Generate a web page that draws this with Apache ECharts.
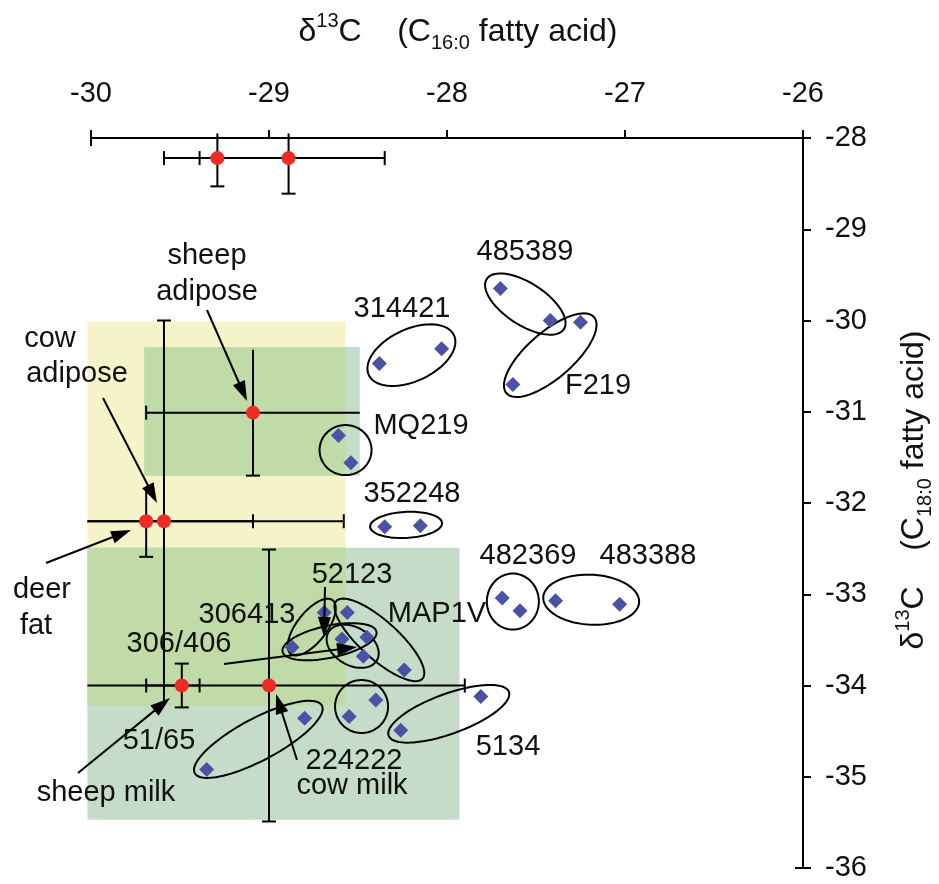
<!DOCTYPE html>
<html><head><meta charset="utf-8">
<script src="https://cdn.jsdelivr.net/npm/echarts@6/dist/echarts.min.js"></script>
<style>html,body{margin:0;padding:0;background:#fff}#c{width:939px;height:884px}</style>
</head><body><div id="c"></div>
<script>
const FONT = "'Liberation Sans', Arial, sans-serif";

// ---- axes ----
const xTickValues = [-30, -29, -28, -27, -26];
const yTickValues = [-28, -29, -30, -31, -32, -33, -34, -35, -36];

// ---- archaeological samples (blue diamonds) ----
const sampleGroup = ['485389','485389','F219','F219','314421','314421','MQ219','MQ219','352248','352248',
  '482369','482369','483388','483388','52123','MAP1V','306413','MAP1V','306413','306/406','MAP1V','51/65','51/65','5134','5134','224222','224222'];
const sampleX = [-27.70,-27.42,-27.25,-27.63,-28.38,-28.03,-28.61,-28.54,-28.35,-28.15,
  -27.69,-27.59,-27.39,-27.03,-28.69,-28.56,-28.59,-28.45,-28.47,-28.87,-28.24,-28.40,-28.55,-27.81,-28.26,-28.80,-29.35];
const sampleY = [-29.65,-30.00,-30.02,-30.70,-30.47,-30.31,-31.26,-31.56,-32.26,-32.25,
  -33.04,-33.18,-33.07,-33.11,-33.20,-33.20,-33.49,-33.47,-33.68,-33.58,-33.83,-34.16,-34.34,-34.12,-34.49,-34.36,-34.92];

// ---- modern reference fats (red points with ranges) ----
const refNames = ['ref A','ref B','sheep adipose','cow adipose','deer fat','sheep milk','cow milk'];
const refX     = [-29.29, -28.89, -29.09, -29.59, -29.69, -29.49, -29.00];
const refY     = [-28.22, -28.22, -31.01, -32.20, -32.20, -34.00, -34.00];
const refXLow  = [-29.59, -29.39, -29.69, -30.02, -30.02, -29.69, -30.02];
const refXHigh = [-28.89, -28.35, -28.49, -28.58, -29.09, -29.39, -27.90];
const refYLow  = [-28.53, -28.61, -31.70, -34.20, -32.59, -34.24, -35.49];
const refYHigh = [-27.95, -27.95, -30.32, -30.00, -31.86, -33.76, -32.51];

// ---- shaded reference ranges ----
const rangeX0 = [-30.02, -29.70, -30.02];
const rangeX1 = [-28.57, -28.49, -27.93];
const rangeY0 = [-30.01, -30.29, -32.49];
const rangeY1 = [-34.22, -31.70, -35.47];

// ---- group ellipse centres (data units) ----
const groupCx = [-27.56, -27.42, -28.20, -28.57, -28.23, -27.63, -27.19, -28.76, -28.66, -28.53, -28.38, -28.48, -27.99, -29.06];
const groupCy = [-29.82, -30.38, -30.38, -31.42, -32.24, -33.08, -33.06, -33.36, -33.52, -33.57, -33.50, -34.23, -34.31, -34.59];

// ===== rendering config (styles / sizes) =====
const ellipseGeom = [ // rx px, ry px, angle deg
  [46,21,33],[58,23,-41],[47,26,-25],[26,25,0],[36,13,-3],[28,26,90],[48,25,3],
  [34,15,-52],[48,16,-12],[28,19,30],[58,19,42],[26.5,26.5,0],[64,20,-20],[72,21,-28]];
const errCaps = ['lb','lrb','lb','rt','rb','lrbt','rbt'];
const YELLOW = '#f5f4c8', SAGE = '#c4dcc8', OVER = '#c0dba7';
const FS = 29;

const rectData = rangeX0.map((v,i)=>[rangeX0[i], rangeY0[i], rangeX1[i], rangeY1[i]]);
const overData = [];
for (let i = 1; i < rectData.length; i++) {
  const a = rectData[0], b = rectData[i];
  const x0 = Math.max(Math.min(a[0],a[2]), Math.min(b[0],b[2]));
  const x1 = Math.min(Math.max(a[0],a[2]), Math.max(b[0],b[2]));
  const y0 = Math.max(Math.min(a[1],a[3]), Math.min(b[1],b[3]));
  const y1 = Math.min(Math.max(a[1],a[3]), Math.max(b[1],b[3]));
  if (x1 > x0 && y1 > y0) overData.push([x0,y0,x1,y1]);
}

function rectRender(colorFn) {
  return function(params, api) {
    const p0 = api.coord([api.value(0), api.value(1)]);
    const p1 = api.coord([api.value(2), api.value(3)]);
    return {type:'rect', shape:{x:Math.min(p0[0],p1[0]), y:Math.min(p0[1],p1[1]),
      width:Math.abs(p1[0]-p0[0]), height:Math.abs(p1[1]-p0[1])},
      style:{fill:colorFn(params.dataIndex)}};
  };
}

const errData = refX.map((v,i)=>[refX[i], refY[i], refXLow[i], refXHigh[i], refYLow[i], refYHigh[i]]);
function errRender(params, api) {
  const i = params.dataIndex, caps = errCaps[i];
  const l = api.coord([api.value(2), api.value(1)]);
  const r = api.coord([api.value(3), api.value(1)]);
  const b = api.coord([api.value(0), api.value(4)]);
  const t = api.coord([api.value(0), api.value(5)]);
  const st = {stroke:'#000', lineWidth:2};
  const ch = [
    {type:'line', shape:{x1:l[0],y1:l[1],x2:r[0],y2:r[1]}, style:st},
    {type:'line', shape:{x1:b[0],y1:b[1],x2:t[0],y2:t[1]}, style:st}
  ];
  const w = 7;
  if (caps.includes('l')) ch.push({type:'line', shape:{x1:l[0],y1:l[1]-w,x2:l[0],y2:l[1]+w}, style:st});
  if (caps.includes('r')) ch.push({type:'line', shape:{x1:r[0],y1:r[1]-w,x2:r[0],y2:r[1]+w}, style:st});
  if (caps.includes('b')) ch.push({type:'line', shape:{x1:b[0]-w,y1:b[1],x2:b[0]+w,y2:b[1]}, style:st});
  if (caps.includes('t')) ch.push({type:'line', shape:{x1:t[0]-w,y1:t[1],x2:t[0]+w,y2:t[1]}, style:st});
  return {type:'group', children:ch};
}

function ellipseRender(params, api) {
  const g = ellipseGeom[params.dataIndex];
  const c = api.coord([api.value(0), api.value(1)]);
  const th = g[2]*Math.PI/180, pts = [];
  for (let k = 0; k < 90; k++) {
    const t = k/90*2*Math.PI, ex = g[0]*Math.cos(t), ey = g[1]*Math.sin(t);
    pts.push([c[0]+ex*Math.cos(th)-ey*Math.sin(th), c[1]+ex*Math.sin(th)+ey*Math.cos(th)]);
  }
  return {type:'polygon', shape:{points:pts}, style:{fill:'none', stroke:'#000', lineWidth:2}};
}

// ---- annotation text & arrows (pixel positions) ----
const annoText = [
  ['sheep',207,256],['adipose',207,292],
  ['cow',50,339],['adipose',77,374],
  ['deer',42,590],['fat',36,626],
  ['306/406',179,644],['306413',247,615],['52123',352,575],['MAP1V',437,614],
  ['51/65',159,741],['sheep milk',106,793],['224222',354,761],['cow milk',352,786],['5134',508,747],
  ['314421',402,309],['F219',598,386],['MQ219',421,426],['352248',412,494],
  ['485389',525,252],['482369',528,556],['483388',648,556]
];
const arrows = [
  [207,310,247,401],[103,398,157,503],[46,563,131,530],[224,664,357,647],
  [325,587,324,637],[78,773,170,698],[297,760,276,694]
];

const graphics = [];
annoText.forEach(a => graphics.push({type:'text', x:a[1], y:a[2], z:100,
  style:{text:a[0], fontSize:FS, fontFamily:FONT, fill:'#111', align:'center', verticalAlign:'middle',
    textAlign:'center', textVerticalAlign:'middle'}}));
arrows.forEach(a => {
  const [x1,y1,x2,y2] = a, dx = x2-x1, dy = y2-y1, L = Math.hypot(dx,dy), ux = dx/L, uy = dy/L;
  const hl = 20, hw = 6.5, bx = x2-ux*hl, by = y2-uy*hl;
  graphics.push({type:'line', z:100, shape:{x1:x1,y1:y1,x2:bx+ux*2,y2:by+uy*2}, style:{stroke:'#000', lineWidth:2}});
  graphics.push({type:'polygon', z:100, shape:{points:[[x2,y2],[bx-uy*hw,by+ux*hw],[bx+uy*hw,by-ux*hw]]}, style:{fill:'#000'}});
});
const richTitle = {
  a:{fontSize:32, fontFamily:FONT, lineHeight:42, verticalAlign:'middle', fill:'#111'},
  s:{fontSize:20, fontFamily:FONT, lineHeight:20, verticalAlign:'top', fill:'#111'},
  b:{fontSize:20, fontFamily:FONT, lineHeight:20, verticalAlign:'bottom', fill:'#111'}
};
graphics.push({type:'text', x:458, y:32, z:100, style:{text:'{a|δ}{s|13}{a|C    (C}{b|16:0}{a| fatty acid)}',
  rich:richTitle, align:'center', verticalAlign:'middle', textAlign:'center', textVerticalAlign:'middle'}});
graphics.push({type:'text', x:914, y:490, rotation:Math.PI/2, z:100, style:{text:'{a|δ}{s|13}{a|C    (C}{b|18:0}{a| fatty acid)}',
  rich:richTitle, align:'center', verticalAlign:'middle', textAlign:'center', textVerticalAlign:'middle'}});
graphics.push({type:'line', z:100, shape:{x1:91,y1:138,x2:91,y2:146}, style:{stroke:'#000', lineWidth:2}});
graphics.push({type:'line', z:100, shape:{x1:795,y1:868,x2:803,y2:868}, style:{stroke:'#000', lineWidth:2}});

const axisCommon = {
  type:'value', interval:1, splitLine:{show:false},
  axisLine:{show:true, onZero:false, lineStyle:{color:'#000', width:2}},
  axisTick:{show:true, length:8, lineStyle:{color:'#000', width:2}},
};

const chart = echarts.init(document.getElementById('c'));
chart.setOption({
  animation:false,
  backgroundColor:'#fff',
  grid:{left:91, right:136, top:138, bottom:16, containLabel:false, outerBoundsMode:'none'},
  xAxis:Object.assign({}, axisCommon, {position:'top', min:xTickValues[0], max:xTickValues[xTickValues.length-1],
    axisLabel:{fontSize:FS, fontFamily:FONT, color:'#111', margin:30, showMinLabel:true, showMaxLabel:true}}),
  yAxis:Object.assign({}, axisCommon, {position:'right', min:yTickValues[yTickValues.length-1], max:yTickValues[0],
    axisLabel:{fontSize:FS, fontFamily:FONT, color:'#111', margin:22, showMinLabel:true, showMaxLabel:true}}),
  graphic:graphics,
  series:[
    {type:'custom', z:1, silent:true, data:rectData, renderItem:rectRender(i => i===0 ? YELLOW : SAGE)},
    {type:'custom', z:2, silent:true, data:overData, renderItem:rectRender(() => OVER)},
    {type:'custom', z:3, silent:true, data:errData, renderItem:errRender},
    {type:'custom', z:4, silent:true, data:groupCx.map((v,i)=>[groupCx[i], groupCy[i]]), renderItem:ellipseRender},
    {type:'scatter', z:5, name:'reference fats', symbol:'circle', symbolSize:14,
      itemStyle:{color:'#ee2b24', opacity:1}, data:refX.map((v,i)=>[refX[i], refY[i]])},
    {type:'scatter', z:6, name:'samples', symbol:'diamond', symbolSize:15,
      itemStyle:{color:'#4a52a6', opacity:1}, data:sampleX.map((v,i)=>[sampleX[i], sampleY[i]])}
  ]
});
</script></body></html>
